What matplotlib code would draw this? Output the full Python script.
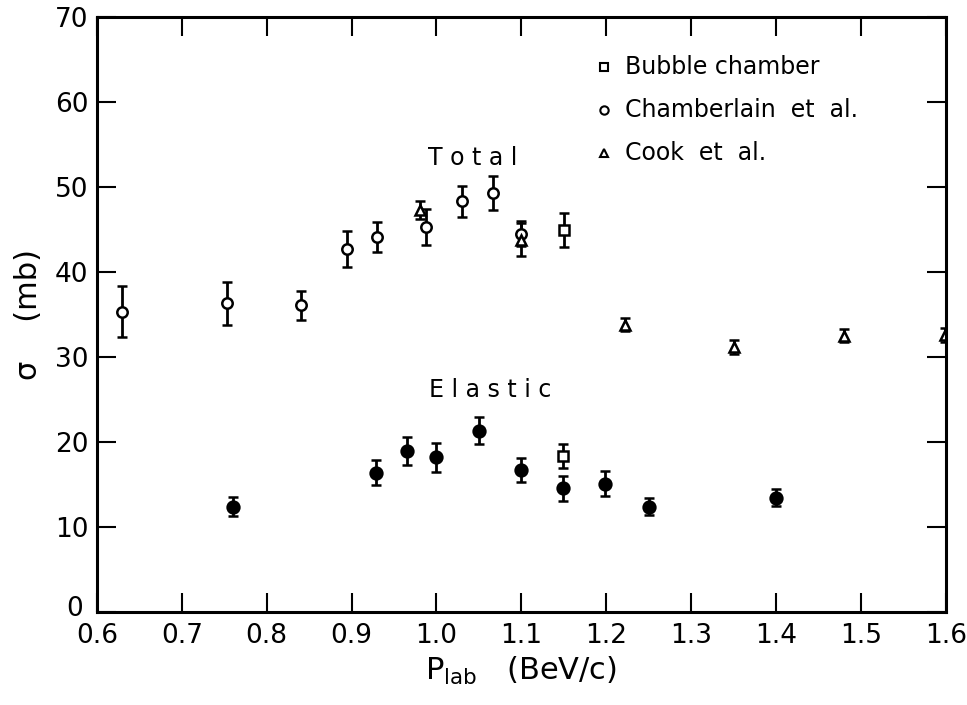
import numpy as np
import matplotlib
matplotlib.use('Agg')
import matplotlib.pyplot as plt
import matplotlib.transforms as mtransforms

# total cross sections
cham_p = [0.630, 0.753, 0.840, 0.894, 0.930, 0.988, 1.030, 1.067, 1.100]
cham_s = [35.3, 36.3, 36.1, 42.7, 44.1, 45.3, 48.3, 49.3, 44.5]
cham_e = [3.0, 2.5, 1.7, 2.1, 1.75, 2.1, 1.8, 2.0, 1.5]

cook_p = [0.980, 1.100, 1.222, 1.350, 1.480, 1.599]
cook_s = [47.3, 43.8, 33.8, 31.2, 32.5, 32.6]
cook_e = [1.1, 1.9, 0.8, 0.8, 0.8, 0.8]

bub_tot_p = [1.150]
bub_tot_s = [44.9]
bub_tot_e = [2.0]

# elastic cross sections
el_p = [0.760, 0.929, 0.965, 0.999, 1.050, 1.099, 1.149, 1.199, 1.250, 1.400]
el_s = [12.4, 16.4, 18.9, 18.2, 21.3, 16.7, 14.55, 15.1, 12.4, 13.45]
el_e = [1.1, 1.45, 1.65, 1.7, 1.6, 1.4, 1.45, 1.45, 1.0, 1.0]

bub_el_p = [1.149]
bub_el_s = [18.35]
bub_el_e = [1.45]

xticks = np.arange(0.6, 1.61, 0.1)
xlabels = ['0.6', '0.7', '0.8', '0.9', '1.0', '1.1', '1.2', '1.3', '1.4', '1.5', '1.6']
yticks = np.arange(0, 71, 10)
ylabels = ['0', '10', '20', '30', '40', '50', '60', '70']

plt.rcParams['font.family'] = ['DejaVu Sans']

fig = plt.figure(figsize=(9.67, 7.05), dpi=100)
ax = fig.add_axes([0.1003, 0.132, 0.8777, 0.844])

eb = dict(ls='none', color='black', ecolor='black', elinewidth=2.0,
          capsize=3.5, capthick=2.0, markeredgewidth=1.8)

ax.errorbar(cham_p, cham_s, yerr=cham_e, fmt='o', ms=7.5,
            mfc='white', mec='black', **eb)
ax.errorbar(cook_p, cook_s, yerr=cook_e, fmt='^', ms=7,
            mfc='white', mec='black', **eb)
ax.errorbar(bub_tot_p, bub_tot_s, yerr=bub_tot_e, fmt='s', ms=7.5,
            mfc='white', mec='black', **eb)
ax.errorbar(el_p, el_s, yerr=el_e, fmt='o', ms=8.5,
            mfc='black', mec='black', **eb)
ax.errorbar(bub_el_p, bub_el_s, yerr=bub_el_e, fmt='s', ms=7.5,
            mfc='white', mec='black', **eb)

ax.text(1.043, 53.4, 'T o t a l', fontsize=17, ha='center', va='center')
ax.text(1.063, 26.1, 'E l a s t i c', fontsize=17, ha='center', va='center')

# legend drawn by hand
leg_items = [('s', 'Bubble chamber'), ('o', 'Chamberlain  et  al.'),
             ('^', 'Cook  et  al.')]
for i, (m, lab) in enumerate(leg_items):
    yy = 0.915 - i * 0.072
    ax.plot([0.597], [yy], marker=m, ms=6, mfc='white', mec='black',
            mew=1.5, transform=ax.transAxes, clip_on=False)
    ax.text(0.622, yy, lab, fontsize=17, va='center', ha='left',
            transform=ax.transAxes)

ax.set_xlim(0.6, 1.6)
ax.set_ylim(0, 70)
ax.set_xticks(xticks)
ax.set_xticklabels(xlabels)
ax.set_yticks(yticks)
# the "0" at the corner is set further left, as in the original
ax.set_yticklabels([''] + ylabels[1:])
corner = mtransforms.blended_transform_factory(ax.transAxes, ax.transData)
corner = corner + mtransforms.ScaledTranslation(0, 3 / 100, fig.dpi_scale_trans)
ax.text(-0.016, yticks[0], ylabels[0], transform=corner, fontsize=19,
        ha='right', va='center')
ax.tick_params(direction='in', length=14, width=1.5, labelsize=19,
               top=True, right=True)
ax.tick_params(axis='x', pad=8)
ax.tick_params(axis='y', pad=6)
for s in ax.spines.values():
    s.set_linewidth(2.2)

ax.set_xlabel(r'P$_{\mathrm{lab}}$   (BeV/c)', fontsize=22, labelpad=4)
ax.set_ylabel('\u03c3    (mb)', fontsize=22)
ax.yaxis.set_label_coords(-0.064, 0.5)

fig.savefig('out.png', dpi=100)
